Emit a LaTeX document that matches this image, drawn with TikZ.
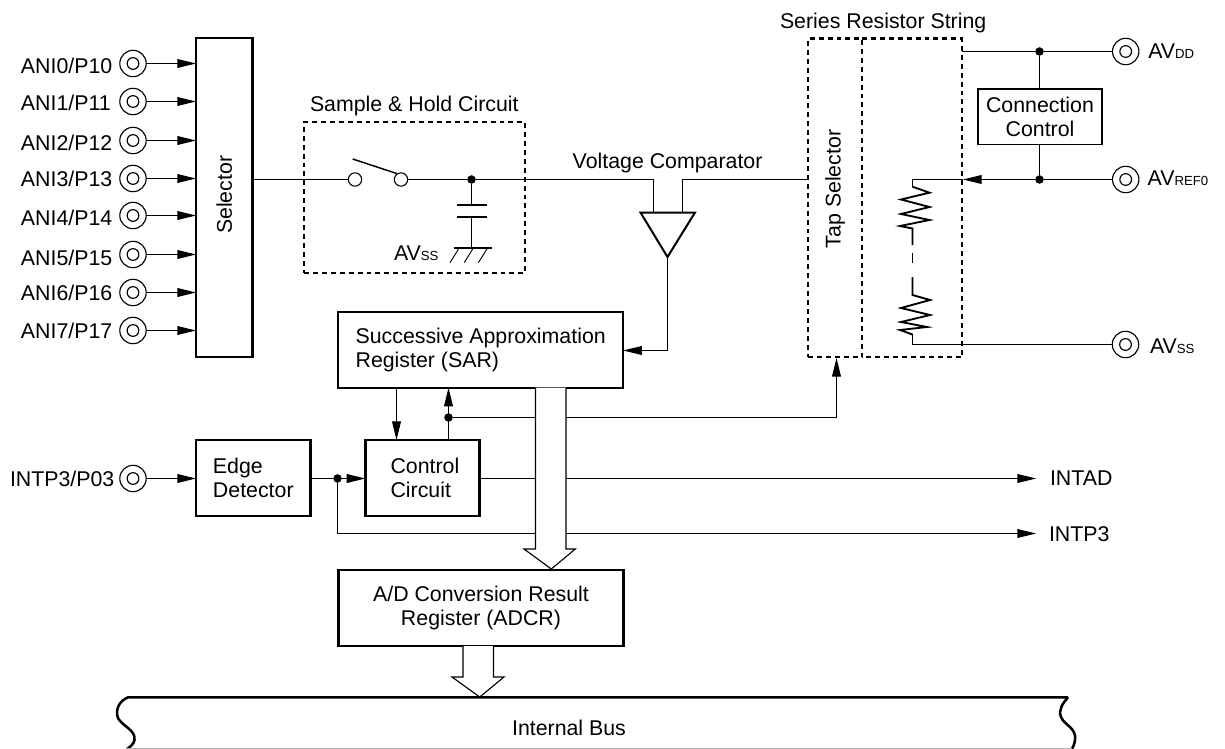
\documentclass[tikz,border=0pt]{standalone}
\usepackage{fontspec}
\usepackage{graphicx}
\setmainfont{Liberation Sans}
\usetikzlibrary{arrows.meta}
\newcommand{\smalltxt}[1]{{\fontsize{9.9pt}{10pt}\selectfont #1}}
\tikzset{
  every node/.style={font=\fontsize{16pt}{18.3pt}\selectfont, outer sep=0pt, text=black},
  wire/.style={line width=0.85pt, line join=miter},
  arr/.style={wire, -{Triangle[length=14pt,width=6.6pt]}},
  thickbox/.style={draw, line width=1.8pt, rectangle, inner sep=0pt, align=left, minimum width=#1*0.75pt},
  thinbox/.style={draw, line width=1pt, rectangle, inner sep=0pt, align=center, minimum width=#1*0.75pt},
  dashstyle/.style={line width=1.8pt, dash pattern=on 3.7pt off 3pt},
  dashbox/.style={draw, dashstyle, rectangle, inner sep=0pt, minimum width=#1*0.75pt},
  plainbox/.style={rectangle, inner sep=0pt, minimum width=#1*0.75pt},
  high/.style={minimum height=#1*0.75pt},
  lab/.style={anchor=base west, inner sep=0pt},
  pinouter/.style={circle, draw, line width=0.85pt, minimum size=19.8pt, inner sep=0pt},
  pininner/.style={circle, draw, line width=0.85pt, minimum size=8.8pt, inner sep=0pt},
  junction/.style={circle, fill=black, minimum size=6.4pt, inner sep=0pt},
  contact/.style={circle, draw, fill=white, line width=0.8pt, minimum size=10pt, inner sep=0pt},
  fat/.style={line width=0.85pt, fill=white, line join=miter},
  res/.style={line width=1.4pt, line join=miter},
}
\newcommand{\PinAt}[3]{\node[pinouter] (#1) at (#2,#3) {}; \node[pininner] (#1i) at (#2,#3) {};}
\begin{document}
\begin{tikzpicture}[x=0.75pt,y=-0.75pt]
\useasboundingbox (0,0) rectangle (1225,749);
% --- boxes
\node[thickbox=56.7, high=319] (sel) at (224.3,197.5) {};
\node (seltxt) at (224.3,194.7) {\rotatebox{90}{Selector}};
\node[dashbox=221, high=151.5] (sh) at (414.5,197.5) {};
\node[thickbox=285, high=76] (sar) at (480.7,349.7) {Successive Approximation\\Register (SAR)};
\node[thickbox=114.7, high=75.7] (edge) at (253.3,477.9) {Edge\\Detector};
\node[thickbox=114, high=75.7] (ctrl) at (422.3,477.9) {\hspace*{4pt}Control\\\hspace*{4pt}Circuit};
\node[thickbox=285, high=76, align=center] (adcr) at (481,608) {A/D Conversion Result\\Register (ADCR)};
\node[dashbox=54, high=318.5] (tap) at (835,197.9) {};
\node (taptxt) at (835,189) {\rotatebox{90}{Tap Selector}};
\node[plainbox=100, high=318.5] (ress) at (912,197.9) {};
\draw[dashstyle] (ress.north west) -- (ress.north east) -- (ress.south east) -- (ress.south west);
\node[thinbox=124.3, high=55.7] (conn) at (1040,116.8) {Connection\\Control};
% --- labels
\node[lab] (l0) at (21,73.3) {ANI0/P10};
\node[lab] (l1) at (21,110.7) {ANI1/P11};
\node[lab] (l2) at (21,150.7) {ANI2/P12};
\node[lab] (l3) at (21,186.7) {ANI3/P13};
\node[lab] (l4) at (21,225) {ANI4/P14};
\node[lab] (l5) at (21,265) {ANI5/P15};
\node[lab] (l6) at (21,300) {ANI6/P16};
\node[lab] (l7) at (21,338) {ANI7/P17};
\node[lab] (lint) at (10,486.7) {INTP3/P03};
\node[lab] (lsh) at (310,111.7) {Sample \& Hold Circuit};
\node[lab] (lvc) at (572.7,168.3) {Voltage Comparator};
\node[lab] (lsr) at (780,28.3) {Series Resistor String};
\node[lab] (lss) at (394,260) {AV\smalltxt{SS}};
\node[lab] (ldd) at (1148.3,58.3) {AV\smalltxt{DD}};
\node[lab] (lref) at (1147.7,185.7) {AV\smalltxt{REF0}};
\node[lab] (lvss) at (1150,353) {AV\smalltxt{SS}};
\node[lab] (lad) at (1050,485.7) {INTAD};
\node[lab] (lp3) at (1049,541.7) {INTP3};
% --- pins
\PinAt{p0}{133}{63.5}
\PinAt{p1}{133}{101.5}
\PinAt{p2}{133}{140.5}
\PinAt{p3}{133}{178.5}
\PinAt{p4}{133}{215.5}
\PinAt{p5}{133}{254.5}
\PinAt{p6}{133}{292.5}
\PinAt{p7}{133}{330.5}
\PinAt{pint}{133}{478.5}
\PinAt{pdd}{1125.7}{51.5}
\PinAt{pref}{1125.7}{179.5}
\PinAt{pss}{1125.5}{344.5}
\foreach \i in {0,...,7}{\draw[arr] (p\i) -- (sel.west |- p\i);}
\draw[arr] (pint) -- (edge.west |- pint);
% --- sample and hold
\node[contact] (sw1) at (355,179.5) {};
\node[contact] (sw2) at (401,179.5) {};
\node[junction] (shj) at (471.5,179.5) {};
\coordinate (fb1) at (653.5,212);
\coordinate (fb2) at (682.5,212);
\draw[wire] (sel.east |- sw1) -- (sw1);
\draw[wire] (sw2) -- (shj);
\draw[line width=1.1pt] (352.7,159) -- (396.7,173.5);
\draw[wire] (shj) -- (fb1 |- shj) -- (fb1);
\draw[wire] (tap.west |- sw1) -- (fb2 |- sw1) -- (fb2);
\coordinate (cap1) at (471.5,204.7);
\coordinate (cap2) at (471.5,217.3);
\coordinate (gnd) at (471.5,248);
\draw[wire] (shj) -- (cap1);
\draw[wire] (cap2) -- (gnd);
\draw[line width=1.5pt] (457,204.7) -- (486.8,204.7);
\draw[line width=1.5pt] (457,217.3) -- (486.8,217.3);
\draw[line width=1.5pt] (454,248) -- (492,248);
\draw[line width=0.7pt] (450,262.7) -- (458.5,249) (464.2,262.7) -- (472.7,249) (478.4,262.7) -- (486.9,249);
% --- comparator
\coordinate (ca) at (640.5,212.5);
\coordinate (cb) at (695,212.5);
\coordinate (cc) at (667.5,257);
\draw[line width=1.5pt, line join=miter] (ca) -- (cb) -- (cc) -- cycle;
\draw[arr] (cc) -- (cc |- 0,350.5) -- (sar.east |- 0,350.5);
% --- SAR / control
\coordinate (sd) at (396.5,387.7);
\coordinate (su) at (448.5,387.7);
\draw[arr] (sd) -- (sd |- ctrl.north);
\draw[arr] (su |- ctrl.north) -- (su);
\node[junction] (cj) at (448.5,417.5) {};
\draw[arr] (cj) -- (836.5,417.5) -- (836.5,358);
\node[junction] (ej) at (337.5,478.5) {};
\draw[wire] (edge.east |- ej) -- (ej);
\draw[arr] (ej) -- (ctrl.west |- ej);
\coordinate (tad) at (1036,478.5);
\coordinate (tp3) at (1036,533.5);
\draw[arr] (ctrl.east |- tad) -- (tad);
\draw[arr] (ej) -- (ej |- tp3) -- (tp3);
% --- fat arrows
\draw[fat] (535.5,387.7) -- (535.5,549) -- (524,549) -- (551.3,569) -- (575.3,549) -- (566,549) -- (566,387.7);
\draw[fat] (463,646) -- (463,677) -- (452,677) -- (479.7,697) -- (504,677) -- (493.5,677) -- (493.5,646);
% --- resistor string
\node[junction] (jdd) at (1039.5,51.5) {};
\node[junction] (jref) at (1039.5,179.5) {};
\draw[wire] (ress.east |- pdd) -- (jdd);
\draw[wire] (jdd) -- (pdd);
\draw[wire] (jdd) -- (jdd |- conn.north);
\draw[wire] (jdd |- conn.south) -- (jref);
\draw[wire] (pref) -- (jref);
\coordinate (rt) at (912.5,179.5);
\coordinate (rb) at (912.5,344.5);
\draw[arr] (jref) -- (963,179.5);
\draw[wire] (963,179.5) -- (rt) -- (912.5,186.7);
\draw[wire] (rb) -- (pss);
\draw[wire] (912.5,333.5) -- (rb);
\draw[res] (912.5,186.7) -- (929.5,192.7) -- (901,199.5) -- (929.5,207) -- (901,214) -- (929.5,220) -- (900,226) -- (912.5,228.5) -- (912.5,245);
\draw[wire] (912.5,253) -- (912.5,263);
\draw[res] (912.5,277) -- (912.5,295) -- (930,300) -- (901,308) -- (930,315) -- (901,322) -- (927,327) -- (900,330) -- (912.5,334.5);
% --- bus
\draw[line width=1.9pt] (1068,697.3) -- (128,697.3) .. controls (119,701) and (115,710) .. (118,718) .. controls (122,726) and (136,730) .. (134.5,740) .. controls (134,744) and (130,747) .. (127,749);
\draw[line width=1.9pt] (1068,697.3) .. controls (1063,703) and (1058,710) .. (1061,717) .. controls (1064,725) and (1077,728) .. (1075,740) .. controls (1074.5,744) and (1073,747) .. (1072,749);
\draw[line width=0.8pt, gray!60] (127,748.5) -- (1072,748.5);
\node (bus) at (569,728) {Internal Bus};
\end{tikzpicture}
\end{document}
